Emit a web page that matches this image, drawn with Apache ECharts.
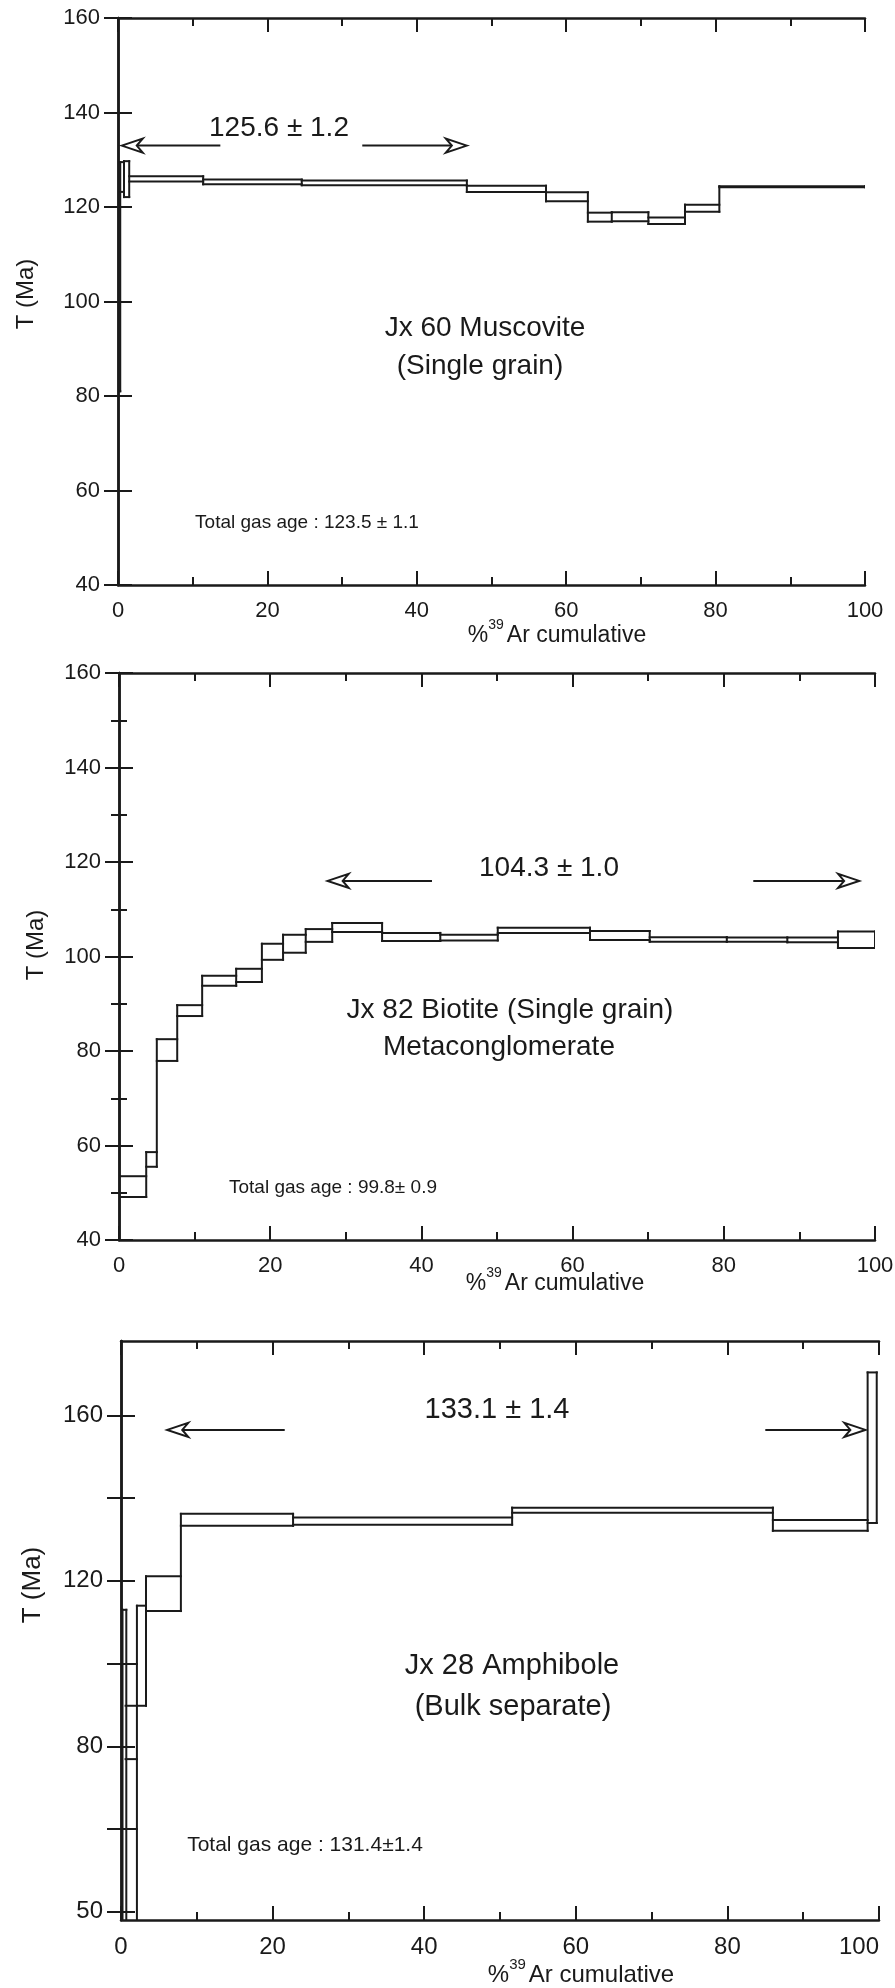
<!DOCTYPE html>
<html>
<head>
<meta charset="utf-8">
<script src="https://cdn.jsdelivr.net/npm/echarts@6/dist/echarts.min.js"></script>
<style>
  html, body { margin: 0; padding: 0; background: #fff; }
  #chart { width: 895px; height: 1988px; }
</style>
</head>
<body>
<div id="chart"></div>
<script>
  // step boxes: [start %, end %, low age, high age]
  const muscoviteSteps = [
    [0, 0.3, 81, 129.5],
    [0.3, 0.8, 123.2, 129.5],
    [0.8, 1.5, 122.1, 129.7],
    [1.5, 11.4, 125.4, 126.5],
    [11.4, 24.6, 124.8, 125.8],
    [24.6, 46.7, 124.6, 125.6],
    [46.7, 57.3, 123.2, 124.5],
    [57.3, 62.9, 121.2, 123.1],
    [62.9, 66.1, 116.9, 118.8],
    [66.1, 71.0, 117.0, 118.9],
    [71.0, 75.9, 116.4, 117.8],
    [75.9, 80.5, 119.0, 120.5],
    [80.5, 100, 124.2, 124.4]
  ];
  const biotiteSteps = [
    [0, 3.6, 49.1, 53.5],
    [3.6, 5.0, 55.5, 58.6],
    [5.0, 7.7, 77.9, 82.5],
    [7.7, 11.0, 87.4, 89.7],
    [11.0, 15.5, 93.8, 95.9],
    [15.5, 18.9, 94.6, 97.4],
    [18.9, 21.7, 99.3, 102.7],
    [21.7, 24.7, 100.8, 104.6],
    [24.7, 28.2, 103.1, 105.8],
    [28.2, 34.8, 105.2, 107.1],
    [34.8, 42.5, 103.3, 105.0],
    [42.5, 50.1, 103.4, 104.6],
    [50.1, 62.3, 105.0, 106.1],
    [62.3, 70.2, 103.5, 105.4],
    [70.2, 80.4, 103.1, 104.1],
    [80.4, 88.4, 103.1, 104.0],
    [88.4, 95.1, 103.0, 104.0],
    [95.1, 100, 101.8, 105.3]
  ];
  const amphiboleSteps = [
    [0.2, 0.7, 30, 113],
    [0.7, 2.1, 30, 99.9],
    [2.1, 3.3, 89.8, 114],
    [3.3, 7.9, 112.7, 121.1],
    [7.9, 22.7, 133.3, 136.2],
    [22.7, 51.6, 133.6, 135.3],
    [51.6, 86.0, 136.5, 137.7],
    [86.0, 98.5, 132.1, 134.7],
    [98.5, 99.7, 134.0, 170.4]
  ];
  // extra horizontal lines inside the first amphibole steps: [start %, end %, age]
  const amphiboleInner = [
    [0.6, 2.1, 89.8],
    [0.6, 2.1, 76.9],
    [0.6, 2.1, 60.0]
  ];

  // plateau arrows: [tail %, tip %, age]
  const arrows1 = [[13.7, 0.5, 133], [32.7, 46.7, 133]];
  const arrows2 = [[41.4, 27.6, 116], [83.9, 97.9, 116]];
  const arrows3 = [[21.6, 6.1, 156.5], [85.0, 98.2, 156.5]];

  const yTicks3 = [40, 60, 80, 100, 120, 140, 160];
  const yLabelValues3 = [40, 80, 120, 160];
  const yLabelText3 = ['50', '80', '120', '160'];

  const FONT = '"Liberation Sans", Arial, Helvetica, sans-serif';
  const INK = '#1a1a1a';

  const grids = [
    { left: 118, top: 18, width: 747, height: 567 },
    { left: 119, top: 673, width: 756, height: 567 },
    { left: 121, top: 1341, width: 758, height: 579 }
  ];

  function xAxes(gi, fs, alignMax) {
    const base = {
      type: 'value', gridIndex: gi, min: 0, max: 100, interval: 20,
      axisLine: { show: true, lineStyle: { color: INK, width: 2.5 } },
      axisTick: { show: true, inside: true, length: 14, lineStyle: { color: INK, width: 2 } },
      minorTick: { show: true, splitNumber: 2, length: 8, lineStyle: { color: INK, width: 2 } },
      splitLine: { show: false },
      minorSplitLine: { show: false }
    };
    const bottom = Object.assign({}, base, {
      position: 'bottom',
      axisLabel: { show: true, margin: 15, color: INK, fontSize: fs, fontFamily: FONT }
    });
    if (alignMax) bottom.axisLabel.alignMaxLabel = 'right';
    return [bottom, Object.assign({}, base, { position: 'top', axisLabel: { show: false } })];
  }

  function yAxes(gi, opts) {
    const base = {
      type: 'value', gridIndex: gi, min: opts.min, max: opts.max,
      axisLine: { show: true, lineStyle: { color: INK, width: 2.5 } },
      axisTick: { show: true, inside: true, length: 14, lineStyle: { color: INK, width: 2 } },
      minorTick: { show: !!opts.minor, splitNumber: 2, length: 8, lineStyle: { color: INK, width: 2 } },
      splitLine: { show: false }
    };
    if (opts.interval) base.interval = opts.interval;
    if (opts.ticks) base.axisTick.customValues = opts.ticks;
    const left = Object.assign({}, base, {
      position: 'left',
      axisLabel: { show: true, margin: 18, color: INK, fontSize: opts.fs, fontFamily: FONT }
    });
    if (opts.labelValues) {
      left.axisLabel.customValues = opts.labelValues;
      left.axisLabel.formatter = function (v) {
        const i = opts.labelValues.indexOf(v);
        return i >= 0 ? opts.labelText[i] : '';
      };
    }
    const right = Object.assign({}, base, { position: 'right', axisLabel: { show: false } });
    return [left, right];
  }

  function seg(a, b) {
    return {
      type: 'line',
      shape: { x1: a[0], y1: a[1], x2: b[0], y2: b[1] },
      style: { stroke: INK, lineWidth: 2, lineCap: 'square' }
    };
  }

  // age spectrum: top and bottom of each step, verticals join neighbouring steps
  function stepRenderer(steps) {
    return function (params, api) {
      const i = params.dataIndex;
      const s = steps[i];
      const prev = steps[i - 1];
      const next = steps[i + 1];
      const c = (x, y) => api.coord([x, y]);
      const kids = [
        seg(c(s[0], s[3]), c(s[1], s[3])),
        seg(c(s[0], s[2]), c(s[1], s[2]))
      ];
      let lo = s[2], hi = s[3];
      if (prev && Math.abs(prev[1] - s[0]) < 1e-6) {
        lo = Math.min(lo, prev[2]);
        hi = Math.max(hi, prev[3]);
      }
      kids.push(seg(c(s[0], lo), c(s[0], hi)));
      if (!next || Math.abs(next[0] - s[1]) > 1e-6) {
        kids.push(seg(c(s[1], s[2]), c(s[1], s[3])));
      }
      return { type: 'group', children: kids };
    };
  }

  function renderInner(params, api) {
    return seg(api.coord([api.value(0), api.value(2)]), api.coord([api.value(1), api.value(2)]));
  }

  function renderArrow(params, api) {
    const a = api.coord([api.value(0), api.value(2)]);
    const b = api.coord([api.value(1), api.value(2)]);
    const d = b[0] > a[0] ? 1 : -1;
    return {
      type: 'group',
      children: [
        {
          type: 'line',
          shape: { x1: a[0], y1: a[1], x2: b[0] - d * 14, y2: b[1] },
          style: { stroke: INK, lineWidth: 2 }
        },
        {
          type: 'polygon',
          shape: {
            points: [
              [b[0], b[1]],
              [b[0] - d * 21, b[1] - 7],
              [b[0] - d * 15, b[1]],
              [b[0] - d * 21, b[1] + 7]
            ]
          },
          style: { fill: '#fff', stroke: INK, lineWidth: 2 }
        }
      ]
    };
  }

  function stepSeries(gi, data) {
    return {
      type: 'custom', xAxisIndex: gi * 2, yAxisIndex: gi * 2,
      renderItem: stepRenderer(data), data: data, silent: true,
      encode: { x: [0, 1], y: [2, 3] }, clip: true
    };
  }
  function innerSeries(gi, data) {
    return {
      type: 'custom', xAxisIndex: gi * 2, yAxisIndex: gi * 2,
      renderItem: renderInner, data: data, silent: true,
      encode: { x: [0, 1], y: 2 }, clip: true
    };
  }
  function arrowSeries(gi, data) {
    return {
      type: 'custom', xAxisIndex: gi * 2, yAxisIndex: gi * 2,
      renderItem: renderArrow, data: data, silent: true,
      encode: { x: [0, 1], y: 2 }
    };
  }

  function txt(x, y, text, size, extra) {
    return Object.assign({
      type: 'text', x: x, y: y, silent: true,
      style: Object.assign({
        text: text, fill: INK, font: size + 'px ' + FONT,
        align: 'center', verticalAlign: 'middle',
        textAlign: 'center', textVerticalAlign: 'middle'
      }, extra && extra.style)
    }, extra && extra.el);
  }

  function arName(x, y, size) {
    return txt(x, y, '%{sup|39}Ar cumulative', size, {
      style: {
        lineHeight: size + 12,
        rich: {
          sup: { fontSize: Math.round(size * 0.62), fontFamily: FONT, fill: INK, verticalAlign: 'top', lineHeight: size + 12, padding: [0, 3, 0, 0] }
        }
      }
    });
  }

  function yName(x, y, size) {
    return txt(x, y, 'T (Ma)', size, { el: { rotation: Math.PI / 2 } });
  }

  const chart = echarts.init(document.getElementById('chart'), null, { renderer: 'canvas' });
  chart.setOption({
    backgroundColor: '#fff',
    animation: false,
    grid: grids.map(g => Object.assign({ containLabel: false, outerBoundsMode: 'none' }, g)),
    xAxis: [].concat(xAxes(0, 22), xAxes(1, 22), xAxes(2, 24, true)),
    yAxis: [].concat(
      yAxes(0, { min: 40, max: 160, interval: 20, fs: 22 }),
      yAxes(1, { min: 40, max: 160, interval: 20, minor: true, fs: 22 }),
      yAxes(2, { min: 38, max: 178, ticks: yTicks3, labelValues: yLabelValues3, labelText: yLabelText3, fs: 24 })
    ),
    series: [
      stepSeries(0, muscoviteSteps),
      arrowSeries(0, arrows1),
      stepSeries(1, biotiteSteps),
      arrowSeries(1, arrows2),
      stepSeries(2, amphiboleSteps),
      innerSeries(2, amphiboleInner),
      arrowSeries(2, arrows3)
    ],
    graphic: [
      // panel 1
      txt(279, 128, '125.6 ± 1.2', 28),
      txt(485, 328, 'Jx 60 Muscovite', 28),
      txt(480, 366, '(Single grain)', 28),
      txt(307, 523, 'Total gas age : 123.5 ± 1.1', 19),
      yName(26, 294, 24),
      arName(557, 636, 23),
      // panel 2
      txt(549, 868, '104.3 ± 1.0', 28),
      txt(510, 1010, 'Jx 82 Biotite (Single grain)', 28),
      txt(499, 1047, 'Metaconglomerate', 28),
      txt(333, 1188, 'Total gas age : 99.8± 0.9', 19),
      yName(36, 945, 24),
      arName(555, 1284, 23),
      // panel 3
      txt(497, 1410, '133.1 ± 1.4', 29),
      txt(512, 1666, 'Jx 28 Amphibole', 29),
      txt(513, 1707, '(Bulk separate)', 29),
      txt(305, 1845, 'Total gas age : 131.4±1.4', 21),
      yName(33, 1585, 26),
      arName(581, 1975, 24)
    ]
  });
</script>
</body>
</html>
